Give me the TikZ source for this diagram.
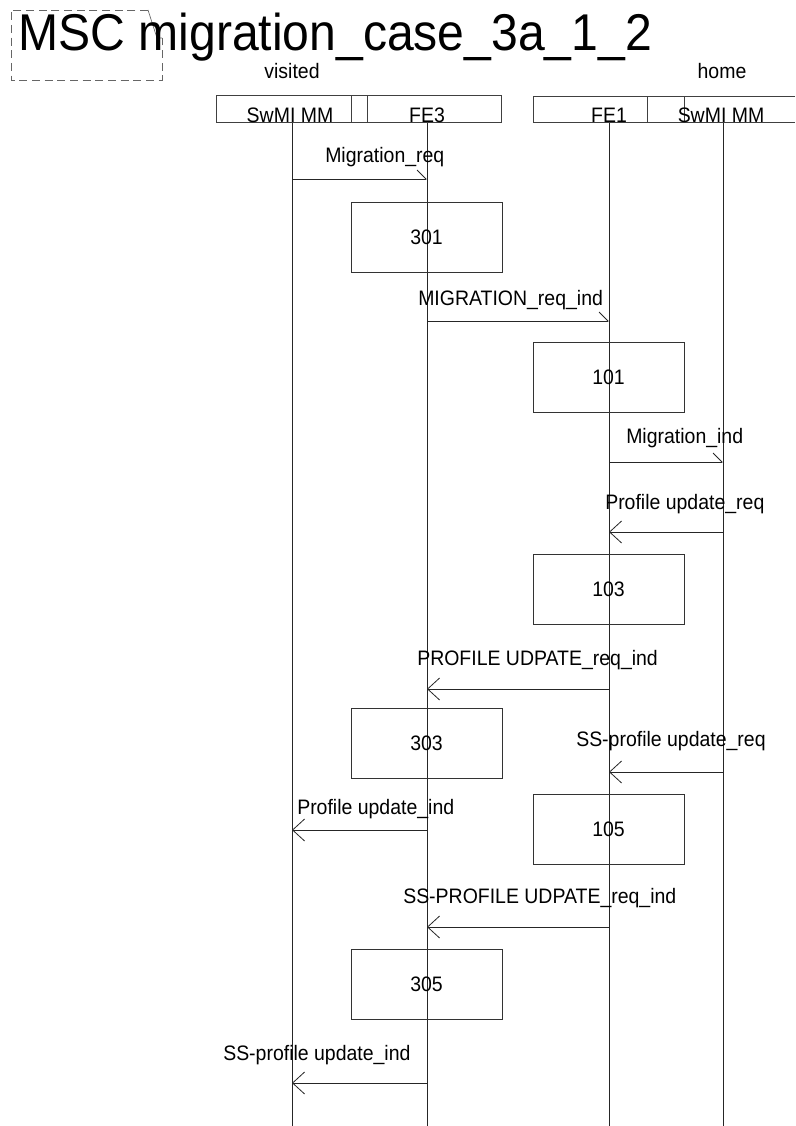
\documentclass[tikz,border=0pt]{standalone}
\usepackage{fontspec}
\setmainfont{Liberation Sans}[FakeStretch=0.93]
\usetikzlibrary{arrows.meta}

\begin{document}
\begin{tikzpicture}[x=0.75pt, y=-0.75pt,
    every node/.style={inner sep=0pt, font=\fontsize{15.7}{18}\selectfont},
    inst/.style={anchor=base},
    msgtext/.style={anchor=base west},
    actbox/.style={draw=black!80, line width=0.6pt, minimum width=113.25pt, minimum height=52.5pt},
    lifeline/.style={line width=0.6pt, black!85},
    headbox/.style={line width=0.6pt, black!75},
    msgleft/.style={line width=0.6pt, black!85, -{Straight Barb[length=9pt, width=16.5pt]}},
    msgright/.style={line width=0.6pt, black!85, -{Straight Barb[left, length=6.75pt, width=13.5pt]}}]
    \useasboundingbox (0,0) rectangle (795,1126);
    % 标题与虚线框
    \draw[black!60, line width=0.6pt, dash pattern=on 6pt off 3.5pt]
        (148,10) -- (11,10) -- (11,80) -- (162,80) -- (162,38);
    \draw[black!60, line width=0.5pt] (148,10) -- (157,38) -- (162,38);
    \node (title) [anchor=base west, font=\fontsize{38.8}{44}\selectfont] at (18,51) {MSC migration\_case\_3a\_1\_2};
    \node (visited) [inst] at (292,79) {visited};
    \node (home) [inst] at (722,79) {home};
    % 实例头
    \draw[headbox] (216,95) rectangle (501,122);
    \draw[headbox] (351,95) rectangle (367,122);
    \draw[headbox] (795,96) -- (533,96) -- (533,122) -- (795,122);
    \draw[headbox] (647,96) rectangle (684,122);
    \node (swmiV) [inst] at (290,123) {SwMI MM};
    \node (fe3) [inst] at (427,123) {FE3};
    \node (fe1) [inst] at (609,123) {FE1};
    \node (swmiH) [inst] at (721,123) {SwMI MM};
    % 生命线
    \coordinate (endV) at (292,1126);
    \coordinate (end3) at (427,1126);
    \coordinate (end1) at (609,1126);
    \coordinate (endH) at (723,1126);
    \draw[lifeline] (swmiV.base -| endV) -- (endV);
    \draw[lifeline] (fe3.base) -- (end3);
    \draw[lifeline] (fe1.base) -- (end1);
    \draw[lifeline] (swmiH.base -| endH) -- (endH);
    % 动作框
    \node (b301) [actbox] at (426.5,237) {301};
    \node (b101) [actbox] at (608.5,377.5) {101};
    \node (b103) [actbox] at (608.5,589) {103};
    \node (b303) [actbox] at (426.5,743) {303};
    \node (b105) [actbox] at (608.5,829.5) {105};
    \node (b305) [actbox] at (426.5,984) {305};
    % 消息
    \node (t1) [msgtext] at (325,163) {Migration\_req};
    \draw[msgright] (endV |- 0,179) -- (end3 |- 0,179);
    \node (t2) [msgtext] at (418,306) {MIGRATION\_req\_ind};
    \draw[msgright] (end3 |- 0,321) -- (end1 |- 0,321);
    \node (t3) [msgtext] at (626,443) {Migration\_ind};
    \draw[msgright] (end1 |- 0,462) -- (endH |- 0,462);
    \node (t4) [msgtext] at (605,509) {Profile update\_req};
    \draw[msgleft] (endH |- 0,532) -- (end1 |- 0,532);
    \node (t5) [msgtext] at (417,665) {PROFILE UDPATE\_req\_ind};
    \draw[msgleft] (end1 |- 0,689) -- (end3 |- 0,689);
    \node (t6) [msgtext] at (576,746) {SS-profile update\_req};
    \draw[msgleft] (endH |- 0,772) -- (end1 |- 0,772);
    \node (t7) [msgtext] at (297,814) {Profile update\_ind};
    \draw[msgleft] (end3 |- 0,830) -- (endV |- 0,830);
    \node (t8) [msgtext] at (403,903) {SS-PROFILE UDPATE\_req\_ind};
    \draw[msgleft] (end1 |- 0,927) -- (end3 |- 0,927);
    \node (t9) [msgtext] at (223,1060) {SS-profile update\_ind};
    \draw[msgleft] (end3 |- 0,1083) -- (endV |- 0,1083);
\end{tikzpicture}
\end{document}
